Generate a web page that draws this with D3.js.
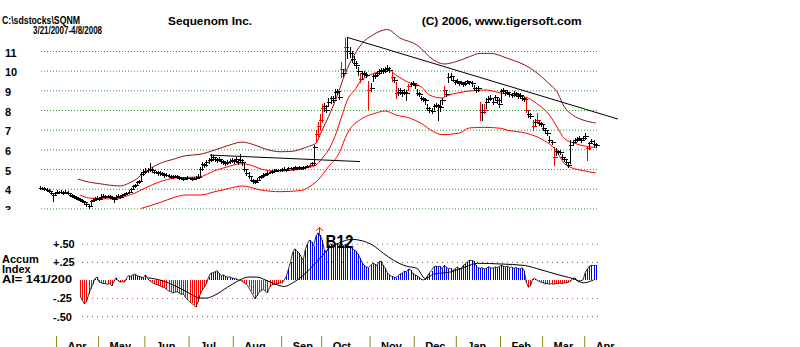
<!DOCTYPE html>
<html>
<head>
<meta charset="utf-8">
<script src="https://cdn.jsdelivr.net/npm/d3@7"></script>
<style>
  body { margin: 0; background: #fff; }
  svg { display: block; }
  text { font-family: "Liberation Sans", Arial, sans-serif; font-weight: bold; fill: #000; }
</style>
</head>
<body>
<svg id="chart" width="800" height="347"></svg>
<script>
// ---- Daily SQNM prices, 3/21/2007 .. 4/8/2008 (one entry per trading day) ----
const closes = [
  4.05,4.05,4.00,3.95,3.90,3.80,3.70,3.80,3.85,3.85,
  3.85,3.80,3.85,3.80,3.70,3.65,3.60,3.55,3.50,3.45,
  3.40,3.30,3.20,3.10,3.40,3.45,3.50,3.55,3.50,3.60,
  3.65,3.60,3.65,3.60,3.55,3.50,3.60,3.65,3.60,3.70,
  3.75,3.80,3.85,4.00,4.15,4.20,4.35,4.40,4.75,4.85,
  4.90,4.95,5.00,4.95,4.85,4.85,4.80,4.80,4.75,4.70,
  4.70,4.65,4.60,4.60,4.65,4.60,4.55,4.55,4.50,4.55,
  4.55,4.55,4.50,4.55,4.55,4.60,5.00,5.25,5.20,5.35,
  5.45,5.50,5.60,5.50,5.45,5.50,5.40,5.35,5.30,5.35,
  5.40,5.45,5.40,5.50,5.35,5.45,5.35,5.00,4.80,4.65,
  4.45,4.40,4.35,4.45,4.60,4.65,4.70,4.75,4.80,4.85,
  4.90,4.90,4.95,4.95,4.95,5.00,5.00,4.95,5.05,5.05,
  5.00,5.10,5.05,5.10,5.05,5.10,5.10,5.15,5.20,5.30,
  6.10,6.80,7.20,7.50,8.10,8.20,8.00,8.40,8.60,8.50,
  8.90,8.95,8.65,10.10,9.90,11.20,11.00,10.90,10.60,10.40,
  10.30,10.00,9.60,9.90,9.85,9.80,9.00,9.10,9.75,9.80,
  9.90,10.00,10.05,10.00,10.10,10.15,10.05,9.70,9.55,8.85,
  8.90,9.00,8.85,8.90,8.85,9.20,9.30,9.35,9.25,8.85,
  8.80,8.60,8.55,8.50,8.10,8.00,7.95,8.20,8.25,8.20,
  8.15,8.50,9.00,8.80,9.70,9.75,9.55,9.40,9.50,9.35,
  9.40,9.30,9.35,9.45,9.40,9.35,9.10,9.00,9.10,8.00,
  7.90,8.00,8.40,8.55,8.60,8.40,8.65,8.50,8.30,8.95,
  9.00,8.85,8.90,8.80,8.75,8.85,8.80,8.70,8.75,8.60,
  8.55,8.00,7.80,7.70,7.20,7.40,7.50,7.35,7.30,7.10,
  7.00,6.85,6.50,6.35,5.60,5.90,5.85,5.85,5.60,5.50,
  5.35,5.20,6.20,6.35,6.50,6.55,6.60,6.50,6.60,6.70,
  6.05,6.30,6.45,6.25,6.20
];
const highs = [
  4.12,4.10,4.08,4.02,3.98,3.90,3.80,3.85,3.92,3.90,
  3.95,3.90,3.92,3.88,3.78,3.72,3.68,3.62,3.58,3.52,
  3.48,3.38,3.28,3.22,3.45,3.52,3.58,3.65,3.58,3.75,
  3.72,3.68,3.70,3.68,3.62,3.60,3.68,3.75,3.70,3.75,
  3.80,3.85,3.92,4.05,4.20,4.25,4.40,4.45,4.85,5.00,
  5.05,5.05,5.30,5.10,4.95,4.92,4.88,4.90,4.85,4.80,
  4.78,4.75,4.70,4.68,4.72,4.70,4.65,4.62,4.60,4.62,
  4.65,4.60,4.58,4.62,4.65,4.75,5.10,5.35,5.30,5.45,
  5.55,5.75,5.70,5.62,5.55,5.60,5.52,5.45,5.40,5.45,
  5.50,5.55,5.50,5.60,5.48,5.75,5.50,5.30,5.00,4.85,
  4.65,4.50,4.45,4.52,4.65,4.72,4.78,4.82,4.88,4.92,
  4.95,4.98,5.00,5.02,5.00,5.05,5.08,5.02,5.10,5.12,
  5.08,5.15,5.12,5.15,5.12,5.18,5.15,5.22,5.30,5.38,
  6.20,7.00,7.40,7.80,8.30,8.35,8.25,8.60,8.70,8.70,
  9.05,9.05,8.90,10.45,10.10,11.65,11.70,11.20,11.00,10.75,
  10.50,10.20,9.90,10.00,10.00,9.95,9.50,9.35,9.85,9.90,
  10.00,10.10,10.15,10.15,10.20,10.30,10.20,9.95,9.70,9.40,
  9.10,9.10,9.00,9.05,9.00,9.30,9.40,9.45,9.35,9.05,
  8.90,8.70,8.65,8.60,8.30,8.15,8.10,8.30,8.35,8.30,
  8.50,8.60,9.20,9.00,9.90,9.90,9.70,9.55,9.60,9.50,
  9.50,9.42,9.45,9.55,9.50,9.45,9.25,9.15,9.20,8.40,
  8.30,8.30,8.60,8.70,8.75,8.60,8.75,8.65,8.60,9.05,
  9.10,9.00,9.00,8.92,8.85,8.95,8.90,8.85,8.85,8.75,
  8.65,8.60,7.95,7.85,7.50,7.55,7.85,7.50,7.40,7.25,
  7.10,7.00,6.70,6.50,6.10,6.05,5.95,5.95,5.75,5.60,
  5.45,5.30,6.50,6.50,6.60,6.65,6.70,6.60,6.70,6.85,
  6.10,6.40,6.55,6.50,6.30
];
const lows = [
  4.00,3.98,3.95,3.90,3.82,3.75,3.38,3.70,3.78,3.80,
  3.80,3.75,3.80,3.72,3.65,3.60,3.55,3.50,3.45,3.40,
  3.33,3.22,3.10,3.03,3.15,3.38,3.42,3.48,3.45,3.50,
  3.58,3.55,3.58,3.55,3.50,3.35,3.50,3.58,3.55,3.60,
  3.68,3.72,3.78,3.85,4.00,4.10,4.20,4.30,4.45,4.70,
  4.80,4.85,4.90,4.85,4.80,4.78,4.72,4.72,4.70,4.62,
  4.65,4.60,4.55,4.52,4.58,4.55,4.50,4.48,4.45,4.48,
  4.50,4.48,4.45,4.50,4.50,4.52,4.60,4.95,5.10,5.15,
  5.30,5.40,5.45,5.40,5.35,5.40,5.30,5.25,5.20,5.25,
  5.30,5.35,5.30,5.35,5.25,5.35,5.20,4.90,4.70,4.55,
  4.38,4.30,4.30,4.35,4.45,4.55,4.60,4.68,4.72,4.78,
  4.82,4.85,4.88,4.90,4.90,4.92,4.95,4.90,4.95,5.00,
  4.95,5.00,5.00,5.02,5.00,5.02,5.05,5.08,5.10,5.20,
  5.20,6.40,6.70,7.00,7.40,7.95,7.90,8.20,8.35,8.40,
  8.60,8.80,8.55,9.70,9.75,10.00,10.65,10.70,10.45,10.30,
  10.15,9.80,9.40,9.60,9.75,9.70,8.05,8.95,9.50,9.65,
  9.75,9.85,9.90,9.90,9.95,10.00,9.95,9.45,9.40,8.60,
  8.75,8.80,8.70,8.80,8.50,9.00,9.20,9.25,9.10,8.75,
  8.70,8.50,8.45,8.30,8.00,7.90,7.85,8.05,8.15,7.50,
  7.95,8.30,8.70,8.70,9.40,9.55,9.45,9.30,9.35,9.25,
  9.30,9.20,9.25,9.35,9.30,9.20,9.00,8.90,8.95,7.50,
  7.50,7.85,8.10,8.40,8.50,8.30,8.50,8.35,8.15,8.40,
  8.85,8.75,8.80,8.70,8.65,8.72,8.70,8.60,8.60,8.50,
  8.45,7.90,7.65,7.60,7.00,7.25,7.35,7.25,7.20,7.00,
  6.85,6.75,6.40,6.25,5.20,5.70,5.75,5.75,5.50,5.40,
  5.25,5.10,5.30,6.20,6.35,6.45,6.50,6.40,6.50,6.55,
  5.45,6.00,6.30,6.15,6.10
];
// trading days whose bar is painted red
const redDays = [128,131,132,133,134,143,145,152,156,167,169,175,192,209,211,231,234,236,244,260];

// ---- Band lines (day index, price) ----
const upperDays = [18,23,28,33,38,42,45,50,57,64,69,76,83,90,96,102,107,114,119,124,128,131,134,137,141,145,149,153,158,165,171,179,187,192,198,204,209,214,222,233,241,246,249,253,258,264];
const upperVals = [4.49,4.34,4.26,4.18,4.14,4.27,4.44,4.86,5.29,5.52,5.68,5.75,5.97,6.22,6.37,6.22,6.02,5.88,5.89,6.02,6.17,6.31,6.98,7.66,8.68,9.87,10.75,11.39,11.81,12.09,11.66,11.31,10.54,10.34,10.47,10.71,10.88,10.88,10.63,10.12,9.42,8.85,8.17,7.75,7.49,7.34];
const middleDays = [19,23,28,36,40,45,50,57,64,69,76,83,90,95,100,105,112,119,124,128,131,134,137,140,143,146,150,152,155,161,165,169,176,181,185,191,193,200,206,212,219,226,232,237,242,246,249,254,264];
const middleVals = [3.68,3.53,3.50,3.48,3.59,3.78,4.04,4.36,4.54,4.57,4.61,4.92,5.14,5.27,5.20,5.00,4.90,4.94,4.99,5.10,5.20,5.54,5.97,6.64,7.58,8.51,9.10,9.44,9.69,9.95,10.08,9.78,9.36,9.19,8.76,8.61,8.71,8.90,8.99,9.02,8.86,8.76,8.60,8.25,7.75,7.07,6.56,6.31,6.09];
const lowerDays = [48,57,64,69,76,83,90,96,105,114,124,127,132,137,142,146,153,159,164,169,176,181,187,191,199,204,211,219,222,231,239,245,249,253,258,264];
const lowerVals = [3.00,3.30,3.57,3.68,3.68,3.85,4.02,4.14,3.93,3.85,3.91,4.04,4.44,5.12,5.80,6.82,7.57,7.83,7.95,7.75,7.58,7.32,6.90,6.75,6.82,7.09,7.12,7.07,6.98,6.82,6.48,5.97,5.29,5.05,4.92,4.80];

// ---- Trend lines (day index, price) ----
const resistDays = [145.7, 274.6];
const resistVals = [11.70, 7.54];
const shelfDays = [80.7, 152];
const shelfVals = [5.71, 5.38];

// ---- Accumulation Index, starting at trading day 19 ----
const aiFirstDay = 19;
const aiValues = [
  -0.22,-0.28,-0.33,-0.30,-0.20,-0.12,-0.06,0.02,0.04,-0.03,
  -0.04,-0.05,-0.05,-0.06,-0.05,-0.08,-0.02,0.03,-0.01,-0.03,
  -0.02,-0.03,0.02,0.06,0.05,0.07,0.08,0.06,0.05,0.04,
  0.03,0.07,0.02,-0.01,-0.03,-0.05,-0.06,-0.07,-0.08,-0.10,
  -0.10,-0.13,-0.15,-0.16,-0.18,-0.17,-0.16,-0.18,-0.20,-0.19,
  -0.24,-0.27,-0.30,-0.32,-0.35,-0.37,-0.30,-0.20,-0.14,-0.10,
  -0.05,0.04,0.09,0.10,0.11,0.13,0.09,0.06,0.07,0.05,
  0.04,0.04,0.03,0.02,0.02,0.00,0.00,-0.02,-0.04,-0.06,
  -0.10,-0.15,-0.20,-0.26,-0.22,-0.17,-0.15,-0.13,-0.15,-0.18,
  -0.10,-0.07,-0.06,-0.06,-0.05,-0.04,-0.04,0.00,0.05,0.15,
  0.25,0.38,0.43,0.40,0.37,0.32,0.27,0.42,0.50,0.55,
  0.52,0.47,0.60,0.65,0.62,0.55,0.42,0.38,0.45,0.50,
  0.48,0.47,0.50,0.48,0.50,0.47,0.49,0.48,0.46,0.44,
  0.42,0.40,0.36,0.30,0.24,0.20,0.18,0.17,0.20,0.23,
  0.22,0.20,0.25,0.26,0.20,0.16,0.10,0.07,0.05,0.04,
  0.03,0.06,0.08,0.09,0.12,0.11,0.15,0.14,0.09,0.07,
  0.06,0.04,0.01,0.00,0.01,0.05,0.10,0.13,0.18,0.19,
  0.18,0.19,0.15,0.20,0.18,0.15,0.16,0.13,0.15,0.18,
  0.16,0.15,0.20,0.22,0.25,0.27,0.27,0.26,0.20,0.17,
  0.16,0.17,0.15,0.16,0.18,0.17,0.16,0.18,0.17,0.18,
  0.20,0.19,0.18,0.19,0.17,0.18,0.16,0.17,0.16,0.15,
  0.17,0.13,-0.03,-0.10,-0.08,0.01,0.02,0.00,-0.02,-0.03,
  -0.04,-0.05,-0.05,-0.06,-0.05,-0.06,-0.05,-0.05,-0.04,-0.05,
  -0.04,-0.04,-0.03,-0.02,0.02,0.03,-0.01,-0.03,-0.01,0.00,
  0.10,0.15,0.19,0.20,0.20,0.20
];
// smoothed Accumulation Index (day index, value)
const aiAvgDays = [51,58,64,70,76,79,83,89,95,99,103,107,112,116,120,126,131,134,137,142,148,153,158,163,168,174,179,183,187,195,202,208,219,230,238,247,255,258,263];
const aiAvgVals = [0.03,-0.01,-0.08,-0.17,-0.25,-0.25,-0.21,-0.10,0.00,0.04,0.04,0.00,-0.06,-0.09,-0.04,0.09,0.24,0.33,0.43,0.51,0.56,0.54,0.48,0.37,0.27,0.19,0.16,0.02,0.08,0.11,0.18,0.23,0.22,0.20,0.14,0.065,0.00,-0.04,0.00];
const signalDay = 132;
const signalLabel = "B12";

// ---- Axis ticks ----
const priceTicks = [3,4,5,6,7,8,9,10,11];
const aiTicks = [-0.5,-0.25,0.25,0.5];
const monthStarts = [8,28,50,71,92,115,134,157,178,198,219,239,259];
const monthNames = ["Apr","May","Jun","Jul","Aug","Sep","Oct","Nov","Dec","Jan","Feb","Mar","Apr"];

// ---- Header text ----
const fileLabel = "C:\\sdstocks\\SQNM";
const dateRange = "3/21/2007-4/8/2008";
const companyName = "Sequenom Inc.";
const copyright = "(C) 2006, www.tigersoft.com";
const aiTitle = ["Accum", "Index", "AI= 141/200"];

const FONT = '"Liberation Sans", Arial, sans-serif';
const svg = d3.select("#chart");

const x = d3.scaleLinear().domain([0, closes.length - 1]).range([40.2, 595.7]);
const y = d3.scaleLinear().domain([3, 11]).range([208.4, 51]);
const ya = d3.scaleLinear().domain([-0.5, 0.5]).range([316.2, 243.7]);
const px = i => Math.round(x(i)) + 0.5;

// ================= price panel =================
svg.append("defs").append("clipPath").attr("id", "priceClip")
  .append("rect").attr("x", 0).attr("y", 0).attr("width", 800).attr("height", 210);
const price = svg.append("g").attr("clip-path", "url(#priceClip)");

const gy = price.append("g")
  .attr("transform", "translate(597,0)")
  .call(d3.axisLeft(y).tickValues(priceTicks).tickSize(558).tickFormat(d3.format("d")));
gy.attr("font-family", FONT).attr("font-size", 11).attr("font-weight", "bold");
gy.select(".domain").remove();
gy.selectAll(".tick line").attr("stroke", "#2a962a").attr("stroke-dasharray", "1,2");
gy.selectAll(".tick text").attr("x", 5 - 597).attr("dy", 5).attr("text-anchor", "start").attr("fill", "#000");

const bandLine = d3.line().x(d => x(d[0])).y(d => y(d[1])).curve(d3.curveMonotoneX);
price.append("path").attr("d", bandLine(d3.zip(upperDays, upperVals)))
  .attr("fill", "none").attr("stroke", "#8e1414").attr("stroke-width", 1);
price.append("path").attr("d", bandLine(d3.zip(middleDays, middleVals)))
  .attr("fill", "none").attr("stroke", "#ff0000").attr("stroke-width", 1);
price.append("path").attr("d", bandLine(d3.zip(lowerDays, lowerVals)))
  .attr("fill", "none").attr("stroke", "#ff0000").attr("stroke-width", 1);

const bars = closes.map((c, i) => ({ i, c, h: highs[i], l: lows[i], red: redDays.includes(i) }));
price.append("g").selectAll("path").data(bars).join("path")
  .attr("d", d => {
    const X = px(d.i), yc = Math.round(y(d.c)) + 0.5;
    return `M${X},${Math.round(y(d.h))}V${Math.round(y(d.l)) + 1}M${X - 2},${yc}H${X + 3}`;
  })
  .attr("fill", "none")
  .attr("stroke", d => d.red ? "#ff0000" : "#000")
  .attr("shape-rendering", "crispEdges");

const straight = d3.line().x(d => x(d[0])).y(d => y(d[1]));
price.append("path").attr("d", straight(d3.zip(resistDays, resistVals)))
  .attr("fill", "none").attr("stroke", "#000");
price.append("path").attr("d", straight(d3.zip(shelfDays, shelfVals)))
  .attr("fill", "none").attr("stroke", "#000");

// header
svg.append("text").attr("x", 2).attr("y", 24).attr("font-size", 11)
  .attr("textLength", 78).attr("lengthAdjust", "spacingAndGlyphs").text(fileLabel);
svg.append("text").attr("x", 33).attr("y", 33.5).attr("font-size", 10.5)
  .attr("textLength", 69).attr("lengthAdjust", "spacingAndGlyphs").text(dateRange);
svg.append("text").attr("x", 168).attr("y", 24.5).attr("font-size", 11)
  .attr("textLength", 84).attr("lengthAdjust", "spacingAndGlyphs").text(companyName);
svg.append("text").attr("x", 421.7).attr("y", 24.5).attr("font-size", 11)
  .attr("textLength", 160).attr("lengthAdjust", "spacingAndGlyphs").text(copyright);

// ================= accumulation panel =================
const aiFmt = d => (d > 0 ? "+" : "-") + d3.format(".2f")(Math.abs(d)).replace(/^0/, "");
const ga = svg.append("g")
  .attr("transform", "translate(598,0)")
  .call(d3.axisLeft(ya).tickValues(aiTicks).tickSize(516).tickFormat(aiFmt));
ga.attr("font-family", FONT).attr("font-size", 11).attr("font-weight", "bold");
ga.select(".domain").remove();
ga.selectAll(".tick line")
  .attr("stroke", d => (d === 0.5 || d === -0.25) ? "#b5507f" : "#5a5a5a")
  .attr("stroke-dasharray", "1,4");
ga.selectAll(".tick text").attr("x", 53 - 598).attr("dy", 3.8).attr("text-anchor", "start").attr("fill", "#000");

aiTitle.forEach((t, k) => {
  const el = svg.append("text").attr("x", 2).attr("y", 263.3 + k * 10).attr("font-size", 11).text(t);
  if (k === 2) el.attr("textLength", 70).attr("lengthAdjust", "spacingAndGlyphs");
});

const ai = aiValues.map((v, k) => ({ i: aiFirstDay + k, v }));
const y0 = Math.round(ya(0));
svg.append("g").selectAll("line").data(ai).join("line")
  .attr("x1", d => px(d.i)).attr("x2", d => px(d.i))
  .attr("y1", y0).attr("y2", d => Math.round(ya(d.v)))
  .attr("stroke", d => d.v >= 0 ? "#0000ff" : "#ff0000")
  .attr("shape-rendering", "crispEdges");

svg.append("path")
  .attr("d", d3.line().x(d => x(d.i)).y(d => ya(d.v))(ai))
  .attr("fill", "none").attr("stroke", "#000").attr("stroke-width", 0.8);

svg.append("path")
  .attr("d", d3.line().x(d => x(d[0])).y(d => ya(d[1])).curve(d3.curveMonotoneX)(d3.zip(aiAvgDays, aiAvgVals)))
  .attr("fill", "none").attr("stroke", "#000").attr("stroke-width", 1);

// buy signal marker
const sx = px(signalDay) + 1;
const sTop = ya(aiValues[signalDay - aiFirstDay]) - 5.5;
svg.append("path")
  .attr("d", `M${sx},${sTop + 9}V${sTop}M${sx - 3.5},${sTop + 3.5}L${sx},${sTop}L${sx + 3.5},${sTop + 3.5}`)
  .attr("fill", "none").attr("stroke", "#ff0000");
svg.append("text").attr("x", sx + 6).attr("y", 248).attr("font-size", 18).attr("font-weight", "normal")
  .attr("textLength", 28).attr("lengthAdjust", "spacingAndGlyphs").text(signalLabel);

// ================= month axis =================
const gm = svg.append("g")
  .attr("transform", "translate(0,336)")
  .call(d3.axisBottom(x).tickValues(monthStarts).tickSize(12).tickFormat((d, k) => monthNames[k]));
gm.attr("font-family", FONT).attr("font-size", 11).attr("font-weight", "bold");
gm.select(".domain").remove();
gm.selectAll(".tick line").attr("x1", -1).attr("x2", -1).attr("stroke", "#8a8a1e");
gm.selectAll(".tick text").attr("x", 10).attr("y", 14).attr("dy", 0).attr("text-anchor", "start").attr("fill", "#000");
</script>
</body>
</html>
